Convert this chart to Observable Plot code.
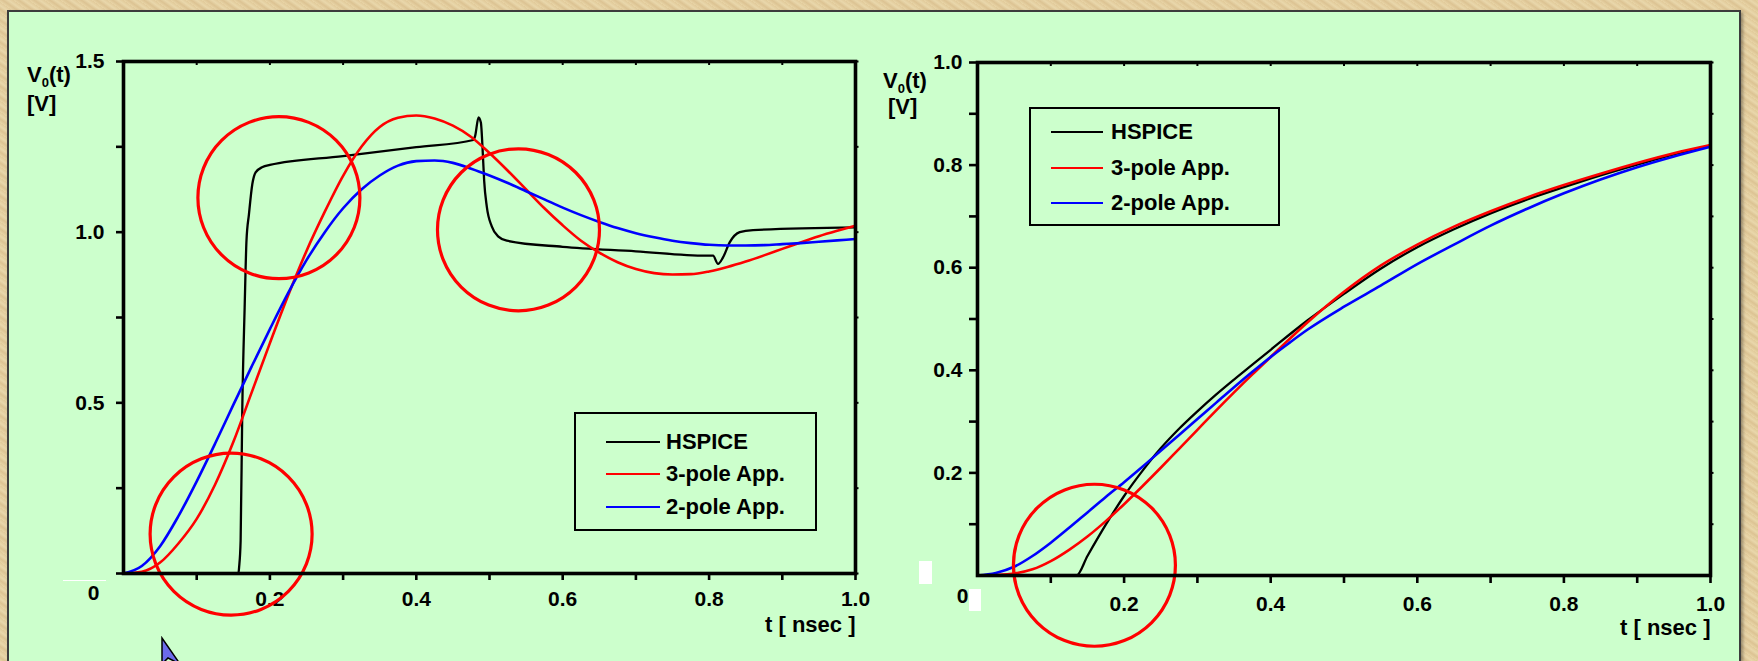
<!DOCTYPE html>
<html>
<head>
<meta charset="utf-8">
<script src="https://cdn.jsdelivr.net/npm/d3@7"></script>
<script src="https://cdn.jsdelivr.net/npm/@observablehq/plot@0.6"></script>
<style>
  html, body { margin: 0; padding: 0; }
  body { width: 1758px; height: 661px; overflow: hidden; background: #e4cf9f; font-family: "Liberation Sans", Arial, sans-serif; }
  #stage { position: relative; width: 1758px; height: 661px; overflow: hidden;
    background: repeating-linear-gradient(35deg, #e8d4a6 0px, #dcc393 3px, #e9d7ab 6px, #e1ca9a 9px); }
  #panel { position: absolute; left: 7px; top: 10px; width: 1734px; height: 660px; background: #ccffcc;
    border: 2px solid #3c3c3c; box-sizing: border-box; box-shadow: 2px 2px 3px rgba(0,0,0,0.35); }
  .chart { position: absolute; top: 0; }
  .chart svg { overflow: visible; }
  .chart g[aria-label*="axis"] line, .chart g[aria-label*="axis"] path { stroke-width: 2.6px; }
  .ylab { position: absolute; font-weight: bold; font-size: 22px; line-height: 24px; color: #000; white-space: nowrap; }
  .ylab sub { font-size: 13px; vertical-align: -5px; line-height: 0; }
  .legend { position: absolute; border: 2.6px solid #000; box-sizing: border-box; }
  .legend .row { position: absolute; left: 0; height: 24px; white-space: nowrap; }
  .legend .sw { position: absolute; top: 11px; height: 2.4px; }
  .legend .lt { position: absolute; top: 0; font-weight: bold; font-size: 22px; line-height: 24px; color: #000; }
  .blk { position: absolute; background: #fff; }
</style>
</head>
<body>
<div id="stage">
  <div id="panel"></div>
  <div id="chartA" class="chart" style="left:0px"></div>
  <div id="chartB" class="chart" style="left:880px"></div>
</div>
<script>
// ---------------- data ----------------
const seriesNames = ["HSPICE", "3-pole App.", "2-pole App."];
const seriesColors = ["#000000", "#ff0000", "#0000ff"];
const seriesWidths = [2.3, 2.6, 2.6];
const yTitle = ["V", "0", "(t)", "[V]"];
const xTitle = "t [ nsec ]";
const originLabel = "0";

// Left chart (0 .. 1.0 nsec, 0 .. 1.5 V)
const hspiceA_t = [0, 0.157, 0.158, 0.160, 0.1623, 0.1655, 0.168, 0.1714, 0.176, 0.1805, 0.19, 0.2, 0.3, 0.4, 0.478, 0.4804, 0.485, 0.4882, 0.4909, 0.4927, 0.4963, 0.5031, 0.5122, 0.5236, 0.6, 0.7, 0.7963, 0.8054, 0.8122, 0.819, 0.8281, 0.8418, 0.86, 1.0];
const hspiceA_v = [0, 0, 0.02, 0.096, 0.486, 0.779, 0.975, 1.053, 1.141, 1.175, 1.191, 1.197, 1.223, 1.249, 1.27, 1.282, 1.336, 1.321, 1.229, 1.151, 1.075, 1.017, 0.987, 0.975, 0.957, 0.944, 0.931, 0.931, 0.907, 0.926, 0.97, 1.0, 1.006, 1.014];
const threeA_t = [0, 0.025, 0.05, 0.075, 0.1, 0.125, 0.15, 0.175, 0.2, 0.225, 0.25, 0.275, 0.3, 0.325, 0.35, 0.375, 0.4, 0.425, 0.45, 0.475, 0.5, 0.525, 0.55, 0.575, 0.6, 0.625, 0.65, 0.675, 0.7, 0.725, 0.75, 0.775, 0.8, 0.825, 0.85, 0.875, 0.9, 0.925, 0.95, 0.975, 1.0];
const threeA_v = [0, 0.005, 0.032, 0.088, 0.16, 0.26, 0.385, 0.53, 0.675, 0.815, 0.945, 1.06, 1.165, 1.25, 1.308, 1.335, 1.342, 1.333, 1.312, 1.279, 1.232, 1.18, 1.125, 1.07, 1.02, 0.975, 0.94, 0.912, 0.892, 0.88, 0.876, 0.877, 0.885, 0.898, 0.914, 0.932, 0.951, 0.97, 0.988, 1.004, 1.019];
const twoA_t = [0, 0.025, 0.05, 0.075, 0.1, 0.125, 0.15, 0.175, 0.2, 0.225, 0.25, 0.275, 0.3, 0.325, 0.35, 0.375, 0.4, 0.425, 0.45, 0.475, 0.5, 0.525, 0.55, 0.575, 0.6, 0.625, 0.65, 0.675, 0.7, 0.725, 0.75, 0.775, 0.8, 0.825, 0.85, 0.875, 0.9, 0.925, 0.95, 0.975, 1.0];
const twoA_v = [0, 0.022, 0.08, 0.168, 0.27, 0.38, 0.494, 0.606, 0.716, 0.822, 0.918, 1.0, 1.07, 1.125, 1.166, 1.195, 1.208, 1.21, 1.203, 1.186, 1.166, 1.144, 1.12, 1.096, 1.072, 1.05, 1.03, 1.012, 0.997, 0.985, 0.975, 0.968, 0.963, 0.961, 0.961, 0.962, 0.965, 0.968, 0.972, 0.976, 0.98];
const circlesA_t = [0.2123, 0.5396, 0.147];
const circlesA_v = [1.101, 1.007, 0.1154];

// Right chart (0 .. 1.0 nsec, 0 .. 1.0 V)
const hspiceB_t = [0, 0.135, 0.15, 0.175, 0.2, 0.225, 0.25, 0.275, 0.3, 0.325, 0.35, 0.375, 0.4, 0.45, 0.5, 0.55, 0.6, 0.65, 0.7, 0.75, 0.8, 0.85, 0.9, 0.95, 1.0];
const hspiceB_v = [0, 0, 0.038, 0.099, 0.155, 0.204, 0.248, 0.286, 0.32, 0.352, 0.382, 0.411, 0.44, 0.497, 0.549, 0.598, 0.64, 0.675, 0.706, 0.733, 0.757, 0.78, 0.801, 0.821, 0.838];
const threeB_t = [0, 0.05, 0.075, 0.1, 0.125, 0.15, 0.175, 0.2, 0.225, 0.25, 0.275, 0.3, 0.325, 0.35, 0.375, 0.4, 0.45, 0.5, 0.55, 0.6, 0.65, 0.7, 0.75, 0.8, 0.85, 0.9, 0.95, 1.0];
const threeB_v = [0, 0.004, 0.012, 0.028, 0.05, 0.076, 0.106, 0.139, 0.174, 0.21, 0.247, 0.284, 0.321, 0.357, 0.392, 0.426, 0.493, 0.553, 0.604, 0.645, 0.68, 0.71, 0.737, 0.761, 0.783, 0.804, 0.823, 0.839];
const twoB_t = [0, 0.025, 0.05, 0.075, 0.1, 0.125, 0.15, 0.175, 0.2, 0.225, 0.25, 0.275, 0.3, 0.325, 0.35, 0.375, 0.4, 0.425, 0.45, 0.5, 0.55, 0.6, 0.65, 0.7, 0.75, 0.8, 0.85, 0.9, 0.95, 1.0];
const twoB_v = [0, 0.005, 0.017, 0.038, 0.064, 0.093, 0.123, 0.153, 0.182, 0.212, 0.243, 0.274, 0.305, 0.336, 0.367, 0.397, 0.426, 0.453, 0.479, 0.524, 0.565, 0.607, 0.645, 0.682, 0.715, 0.745, 0.772, 0.796, 0.817, 0.836];
const circlesB_t = [0.1595];
const circlesB_v = [0.02];

// ticks
const xTicks = [0.1, 0.2, 0.3, 0.4, 0.5, 0.6, 0.7, 0.8, 0.9, 1.0];
const xTickLabels = ["", "0.2", "", "0.4", "", "0.6", "", "0.8", "", "1.0"];
const yTicksA = [0, 0.25, 0.5, 0.75, 1.0, 1.25, 1.5];
const yTickLabelsA = ["", "", "0.5", "", "1.0", "", "1.5"];
const yTicksB = [0.1, 0.2, 0.3, 0.4, 0.5, 0.6, 0.7, 0.8, 0.9, 1.0];
const yTickLabelsB = ["", "0.2", "", "0.4", "", "0.6", "", "0.8", "", "1.0"];

// ---------------- helpers ----------------
const zip = (ts, vs) => ts.map((t, i) => ({t, v: vs[i]}));
const labeler = (ticks, labels) => d => { const i = ticks.findIndex(x => Math.abs(x - d) < 1e-9); return i < 0 ? "" : labels[i]; };

function makeChart(cfg) {
  const {width, height, ml, mr, mt, mb, xDomain, yDomain, series, circles, yTicks, yLabels, tickSize, xPad, yPad, zeroDx, zeroDy, titleDy} = cfg;
  const pw = width - ml - mr, ph = height - mt - mb;
  const xPerPx = (xDomain[1] - xDomain[0]) / pw, yPerPx = (yDomain[1] - yDomain[0]) / ph;
  const font = {fontFamily: "'Liberation Sans', Arial, sans-serif", fontWeight: "bold"};
  return Plot.plot({
    width, height,
    marginLeft: ml, marginRight: mr, marginTop: mt, marginBottom: mb,
    style: {background: "transparent", fontFamily: font.fontFamily, fontSize: "21px", fontWeight: "bold", color: "#000", overflow: "visible"},
    x: {domain: xDomain, ticks: xTicks, tickFormat: labeler(xTicks, xTickLabels), tickSize, tickPadding: xPad, label: null},
    y: {domain: yDomain, ticks: yTicks, tickFormat: labeler(yTicks, yLabels), tickSize, tickPadding: yPad, label: null},
    marks: [
      ...series.map((s, i) => Plot.line(s, {x: "t", y: "v", stroke: seriesColors[i], strokeWidth: seriesWidths[i], curve: "monotone-x"})),
      Plot.dot(circles, {x: "t", y: "v", r: 81, stroke: "#ff0000", strokeWidth: 3.2, fill: "none"}),
      // small ticks on top (inward) and right (outward) edges of the frame
      Plot.ruleX(xTicks, {x: d => d, y1: yDomain[1], y2: yDomain[1] - 4 * yPerPx, stroke: "#000", strokeWidth: 2}),
      Plot.ruleY(yTicks, {y: d => d, x1: xDomain[1], x2: xDomain[1] + 3.5 * xPerPx, stroke: "#000", strokeWidth: 2}),
      Plot.frame({stroke: "#000", strokeWidth: 3.6}),
      Plot.text([originLabel], {x: () => xDomain[0], y: () => yDomain[0], text: d => d, dx: zeroDx, dy: zeroDy, fontSize: 21, ...font, fill: "#000"}),
      Plot.text([xTitle], {frameAnchor: "bottom-right", text: d => d, dy: titleDy, textAnchor: "end", lineAnchor: "middle", fontSize: 22, ...font, fill: "#000"})
    ]
  });
}

const chartA = makeChart({
  width: 880, height: 661, ml: 123, mr: 25, mt: 61, mb: 88,
  xDomain: [0, 1], yDomain: [0, 1.5],
  series: [zip(hspiceA_t, hspiceA_v), zip(threeA_t, threeA_v), zip(twoA_t, twoA_v)],
  circles: zip(circlesA_t, circlesA_v),
  yTicks: yTicksA, yLabels: yTickLabelsA, tickSize: 7, xPad: 11, yPad: 12,
  zeroDx: -30, zeroDy: 20, titleDy: 51
});
const chartB = makeChart({
  width: 878, height: 661, ml: 97, mr: 48, mt: 62, mb: 86,
  xDomain: [0, 1], yDomain: [0, 1.0],
  series: [zip(hspiceB_t, hspiceB_v), zip(threeB_t, threeB_v), zip(twoB_t, twoB_v)],
  circles: zip(circlesB_t, circlesB_v),
  yTicks: yTicksB, yLabels: yTickLabelsB, tickSize: 8, xPad: 13, yPad: 7,
  zeroDx: -15, zeroDy: 21, titleDy: 52
});
document.getElementById("chartA").appendChild(chartA);
document.getElementById("chartB").appendChild(chartB);

// ---------------- html text / legend overlays ----------------
const stage = document.getElementById("stage");
function addYTitle(left, top1, left2, top2) {
  const a = document.createElement("div");
  a.className = "ylab"; a.style.left = left + "px"; a.style.top = top1 + "px";
  a.innerHTML = `${yTitle[0]}<sub>${yTitle[1]}</sub>${yTitle[2]}`;
  stage.appendChild(a);
  const b = document.createElement("div");
  b.className = "ylab"; b.style.left = left2 + "px"; b.style.top = top2 + "px";
  b.textContent = yTitle[3];
  stage.appendChild(b);
}
addYTitle(27, 63, 27, 92);
addYTitle(883, 69, 888, 95);

function addLegend(box, rowTops, swLeft, swWidth, textLeft) {
  const lg = document.createElement("div");
  lg.className = "legend";
  Object.assign(lg.style, {left: box[0] + "px", top: box[1] + "px", width: box[2] + "px", height: box[3] + "px"});
  seriesNames.forEach((name, i) => {
    const row = document.createElement("div");
    row.className = "row"; row.style.top = rowTops[i] + "px"; row.style.width = "100%";
    const sw = document.createElement("div");
    sw.className = "sw"; Object.assign(sw.style, {left: swLeft + "px", width: swWidth + "px", background: seriesColors[i]});
    const tx = document.createElement("div");
    tx.className = "lt"; tx.style.left = textLeft + "px"; tx.textContent = name;
    row.appendChild(sw); row.appendChild(tx); lg.appendChild(row);
  });
  stage.appendChild(lg);
}
addLegend([574, 412, 243, 119], [16, 48, 81], 30, 54, 90);
addLegend([1029, 107, 251, 119], [11, 47, 82], 20, 52, 80);

// small white artefacts present in the original slide
[[63, 580, 43, 1], [919, 561, 13, 23], [969, 589, 12, 22]].forEach(([l, t, w, h]) => {
  const d = document.createElement("div"); d.className = "blk";
  Object.assign(d.style, {left: l + "px", top: t + "px", width: w + "px", height: h + "px"});
  stage.appendChild(d);
});
// mouse pointer at the bottom-left
const cur = document.createElementNS("http://www.w3.org/2000/svg", "svg");
cur.setAttribute("width", "40"); cur.setAttribute("height", "30");
Object.assign(cur.style, {position: "absolute", left: "158px", top: "636px"});
cur.innerHTML = '<polygon points="4,2 4,28 10,22 22,28" fill="#6b6bea" stroke="#000" stroke-width="1.5"/>';
stage.appendChild(cur);
</script>
</body>
</html>
